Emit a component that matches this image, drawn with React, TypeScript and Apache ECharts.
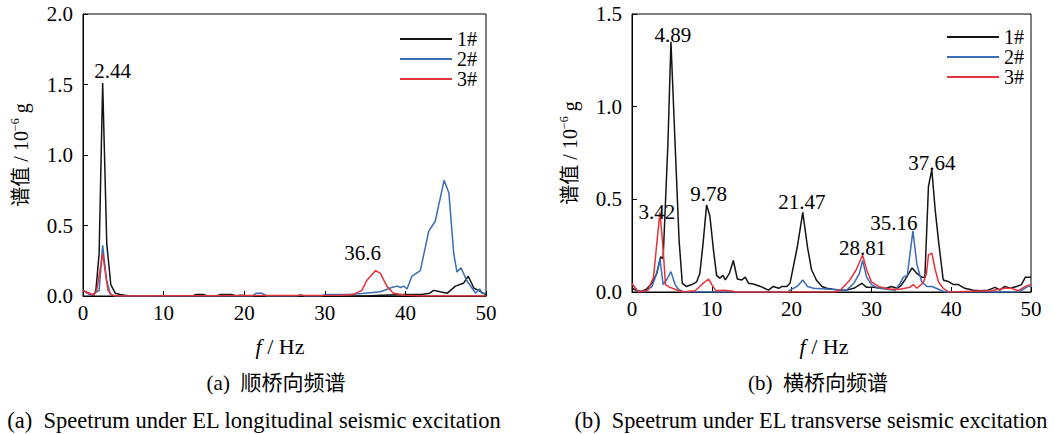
import React, { useEffect, useRef } from "react";
import * as echarts from "echarts";

type P = [number, number];

// (a) longitudinal spectrum: [f (Hz), value (1e-6 g)]
const long1: P[] = [[0,0.04],[0.7,0.02],[1.3,0.0],[1.6,0.04],[2.0,0.3],[2.44,1.51],[2.95,0.37],[3.45,0.08],[4.0,0.02],[4.6,0.01],[5.2,0.005],[6,0],[13.5,0],[14,0.01],[15,0.01],[15.5,0],[16.5,0],[17,0.01],[18.5,0.01],[19,0],[19.5,0.005],[20.5,0],[35,0],[37,0.005],[40,0.01],[42,0.01],[43,0.02],[43.5,0.04],[44.3,0.03],[45.2,0.02],[46.2,0.07],[47.2,0.09],[47.8,0.14],[48.5,0.055],[49.1,0.04],[49.6,0.02],[50,0.01]];
const long2: P[] = [[0,0.04],[0.5,0.02],[1.0,0.005],[2.0,0.04],[2.44,0.36],[2.9,0.12],[3.4,0.01],[4,0],[21,0],[21.5,0.02],[22.2,0.02],[22.8,0],[26.5,0],[27,0.01],[27.5,0],[29.5,0],[30,0.01],[33,0.01],[35,0.02],[36.9,0.03],[38.3,0.06],[39.0,0.07],[39.4,0.06],[39.8,0.07],[40.2,0.05],[40.8,0.14],[41.85,0.18],[42.9,0.46],[43.7,0.53],[44.8,0.82],[45.4,0.73],[46.0,0.3],[46.4,0.17],[46.9,0.2],[47.6,0.11],[48.7,0.02],[49.2,0.05],[49.5,0.02],[50,0.02]];
const long3: P[] = [[0,0.04],[0.5,0.025],[1.3,0.007],[1.7,0.04],[2.44,0.3],[3.1,0.04],[3.6,0.005],[4.5,0],[32,0.005],[33.5,0.01],[34.6,0.04],[35.2,0.11],[36.3,0.18],[36.9,0.16],[37.7,0.07],[38.5,0.02],[40,0.005],[42,0],[50,0]];

// (b) transverse spectrum
const trans1: P[] = [[0,0.02],[1.0,0],[1.8,0.015],[2.5,0.047],[3.1,0.1],[3.6,0.19],[3.9,0.18],[4.5,0.8],[4.88,1.35],[5.4,0.8],[5.9,0.28],[6.3,0.047],[6.8,0.03],[7.5,0.04],[8.1,0.055],[8.5,0.1],[8.9,0.26],[9.35,0.47],[9.76,0.41],[10.2,0.23],[10.6,0.09],[11.0,0.075],[11.4,0.09],[11.7,0.065],[12.2,0.1],[12.7,0.17],[13.2,0.07],[13.77,0.065],[14.2,0.08],[14.6,0.047],[15.2,0.043],[16.1,0.03],[17.1,0.01],[17.7,0.03],[18.4,0.02],[18.8,0.03],[19.4,0.03],[19.8,0.047],[20.7,0.24],[21.4,0.43],[22.0,0.24],[22.5,0.12],[23.1,0.065],[23.8,0.03],[24.4,0.02],[25.2,0.015],[26.1,0.01],[26.9,0.01],[27.8,0.02],[28.8,0.047],[29.4,0.025],[30.3,0.025],[31.1,0.02],[31.9,0.02],[32.5,0.03],[33.2,0.02],[33.6,0.03],[34.2,0.065],[35.1,0.13],[35.7,0.1],[36.3,0.08],[36.7,0.08],[37.15,0.57],[37.57,0.66],[38.0,0.44],[38.4,0.28],[39.0,0.065],[39.7,0.055],[40.3,0.04],[40.9,0.04],[41.7,0.02],[42.8,0.01],[43.6,0.007],[44.6,0.01],[45.5,0.025],[46.1,0.01],[46.7,0.03],[47.4,0.02],[48.2,0.03],[48.8,0.04],[49.3,0.08],[50,0.08]];
const trans2: P[] = [[0,0.045],[0.6,0.01],[1.6,0],[2.5,0.03],[3.1,0.1],[3.5,0.18],[3.9,0.04],[4.4,0.07],[4.88,0.11],[5.4,0.04],[5.8,0.015],[6.5,0],[19.5,0],[19.8,0.01],[20.7,0.03],[21.4,0.065],[22.0,0.03],[22.75,0.02],[24.8,0.015],[26.9,0.01],[27.8,0.047],[28.5,0.1],[28.9,0.17],[29.4,0.08],[30.0,0.04],[30.9,0.02],[31.9,0.015],[33.0,0.01],[33.6,0.047],[34.0,0.08],[34.5,0.09],[35.2,0.33],[35.7,0.15],[36.3,0.055],[36.95,0.03],[37.6,0.03],[38.4,0.015],[39.2,0],[48.5,0],[49.6,0.03],[50,0.03]];
const trans3: P[] = [[0,0.045],[0.8,0],[2.0,0.01],[2.7,0.08],[3.1,0.26],[3.5,0.43],[3.9,0.23],[4.2,0.04],[4.75,0.025],[5.4,0.015],[6.2,0],[7.9,0.007],[8.5,0.03],[8.9,0.047],[9.6,0.07],[10.0,0.04],[10.5,0.007],[11.5,0.01],[12.5,0.005],[13,0],[25.5,0],[26.1,0.01],[27.3,0.065],[28.1,0.12],[28.9,0.2],[29.4,0.12],[30.0,0.055],[30.9,0.03],[31.7,0.02],[32.5,0.015],[33.6,0.015],[34.2,0.02],[34.8,0.025],[35.25,0.04],[35.7,0.02],[36.5,0.05],[36.9,0.1],[37.15,0.2],[37.57,0.21],[38.0,0.12],[38.4,0.055],[39.0,0.02],[39.7,0],[45.0,0.007],[46.7,0.02],[47.5,0.02],[48.4,0.007],[49.3,0.03],[49.9,0.04],[50,0.035]];

const seriesNames = ["1#", "2#", "3#"];
const xTicks = [0, 10, 20, 30, 40, 50];

// peak annotations: text, anchor point (series index, f, value)
const longPeaks = [
  { text: "2.44", s: 0, f: 2.44, v: 1.51 },
  { text: "36.6", s: 2, f: 36.3, v: 0.18 },
];
const transPeaks = [
  { text: "4.89", s: 0, f: 4.88, v: 1.35 },
  { text: "3.42", s: 2, f: 3.5, v: 0.43 },
  { text: "9.78", s: 0, f: 9.35, v: 0.47 },
  { text: "21.47", s: 0, f: 21.4, v: 0.43 },
  { text: "28.81", s: 2, f: 28.9, v: 0.2 },
  { text: "35.16", s: 1, f: 35.2, v: 0.33 },
  { text: "37.64", s: 0, f: 37.57, v: 0.66 },
];
const longOffsets: [number, number][] = [[10, -12], [-13, -18]];
const transOffsets: [number, number][] = [[2, -7], [-3, 0], [2, -11], [-1, -10], [0, -7], [-19, -8], [0, -7]];

const SERIF = "Liberation Serif";
const CJK = "Liberation Serif, Noto Sans CJK SC";
const COLORS = ["#141414", "#3a6db6", "#e8323a"];

export default function App() {
  const ref = useRef<HTMLDivElement>(null);
  useEffect(() => {
    if (!ref.current) return;
    const chart = echarts.init(ref.current, null, { renderer: "svg" });

    const grids = [
      { left: 83, top: 14, width: 403, height: 282 },
      { left: 632, top: 14, width: 399, height: 278 },
    ];
    const axisCommon = {
      axisLine: { show: true, lineStyle: { color: "#000", width: 1 } },
      axisTick: { show: true, inside: true, length: 5, lineStyle: { color: "#000" } },
      splitLine: { show: false },
      axisLabel: { color: "#000", fontSize: 21, fontFamily: SERIF },
    };
    const xAxes = [0, 1].map((g) => ({
      ...axisCommon,
      type: "value",
      gridIndex: g,
      min: xTicks[0],
      max: xTicks[xTicks.length - 1],
      interval: 10,
      axisLabel: { ...axisCommon.axisLabel, margin: 6 },
    }));
    const yName = "{c|谱值 / 10}{s|−6}{c| g}";
    const yRich = {
      c: { fontSize: 20, fontFamily: CJK, color: "#000", lineHeight: 22, verticalAlign: "bottom" },
      s: { fontSize: 12, fontFamily: SERIF, color: "#000", lineHeight: 22, verticalAlign: "top" },
    };
    const yAxes = [
      { max: 2 },
      { max: 1.5 },
    ].map((o, g) => ({
      ...axisCommon,
      type: "value",
      gridIndex: g,
      min: 0,
      max: o.max,
      interval: 0.5,
      axisLabel: { ...axisCommon.axisLabel, margin: 10, formatter: (v: number) => v.toFixed(1) },
      name: yName,
      nameLocation: "middle",
      nameRotate: 90,
      nameGap: 52,
      nameTextStyle: { rich: yRich },
    }));

    const mkSeries = (data: P[][], g: number, peaks: any[], offs: [number, number][]) =>
      data.map((d, i) => ({
        type: "line",
        name: seriesNames[i],
        xAxisIndex: g,
        yAxisIndex: g,
        data: d,
        symbol: "none",
        lineStyle: { width: 1.5, color: COLORS[i] },
        itemStyle: { color: COLORS[i] },
        markPoint: {
          symbol: "circle",
          symbolSize: 0,
          silent: true,
          label: { show: true, position: "inside", color: "#000", fontSize: 21, fontFamily: SERIF },
          data: peaks
            .map((p, k) => ({ p, k }))
            .filter(({ p }) => p.s === i)
            .map(({ p, k }) => ({
              coord: [p.f, p.v],
              value: p.text,
              label: { formatter: p.text, offset: offs[k] },
            })),
        },
      }));

    const legendCommon = {
      orient: "vertical",
      itemWidth: 52,
      itemHeight: 22,
      itemGap: 0,
      itemStyle: { opacity: 0 },
      textStyle: { color: "#000", fontSize: 20, lineHeight: 20, fontFamily: SERIF },
      data: seriesNames,
      selectedMode: false,
    };

    const textG = (x: number, y: number, text: string, size: number, font: string, rich?: any) => ({
      type: "text",
      x,
      y,
      style: {
        text,
        fill: "#000",
        fontSize: size,
        fontFamily: font,
        align: "center",
        verticalAlign: "middle",
        rich,
      },
    });
    const fRich = {
      i: { fontSize: 22, fontFamily: SERIF, fontStyle: "italic", fill: "#000" },
      n: { fontSize: 22, fontFamily: SERIF, fill: "#000" },
    };

    chart.setOption({
      animation: false,
      backgroundColor: "#fff",
      grid: grids.map((g) => ({ ...g, show: true, borderColor: "#000", borderWidth: 1, backgroundColor: "transparent" })),
      xAxis: xAxes,
      yAxis: yAxes,
      legend: [
        { ...legendCommon, left: 394, top: 24 },
        { ...legendCommon, left: 941, top: 22 },
      ],
      series: [
        ...mkSeries([long1, long2, long3], 0, longPeaks, longOffsets),
        ...mkSeries([trans1, trans2, trans3], 1, transPeaks, transOffsets),
      ],
      graphic: [
        textG(280, 346, "{i|f}{n| / Hz}", 22, SERIF, fRich),
        textG(824, 346, "{i|f}{n| / Hz}", 22, SERIF, fRich),
        textG(276, 383, "(a)  顺桥向频谱", 21, CJK),
        textG(818, 383, "(b)  横桥向频谱", 21, CJK),
        textG(254, 420, "(a)  Speetrum under EL longitudinal seismic excitation", 22.5, SERIF),
        textG(811, 420, "(b)  Speetrum under EL transverse seismic excitation", 22.3, SERIF),
      ],
    });
    return () => chart.dispose();
  }, []);
  return <div ref={ref} style={{ position: "absolute", left: 0, top: 0, width: 1054, height: 434 }} />;
}
